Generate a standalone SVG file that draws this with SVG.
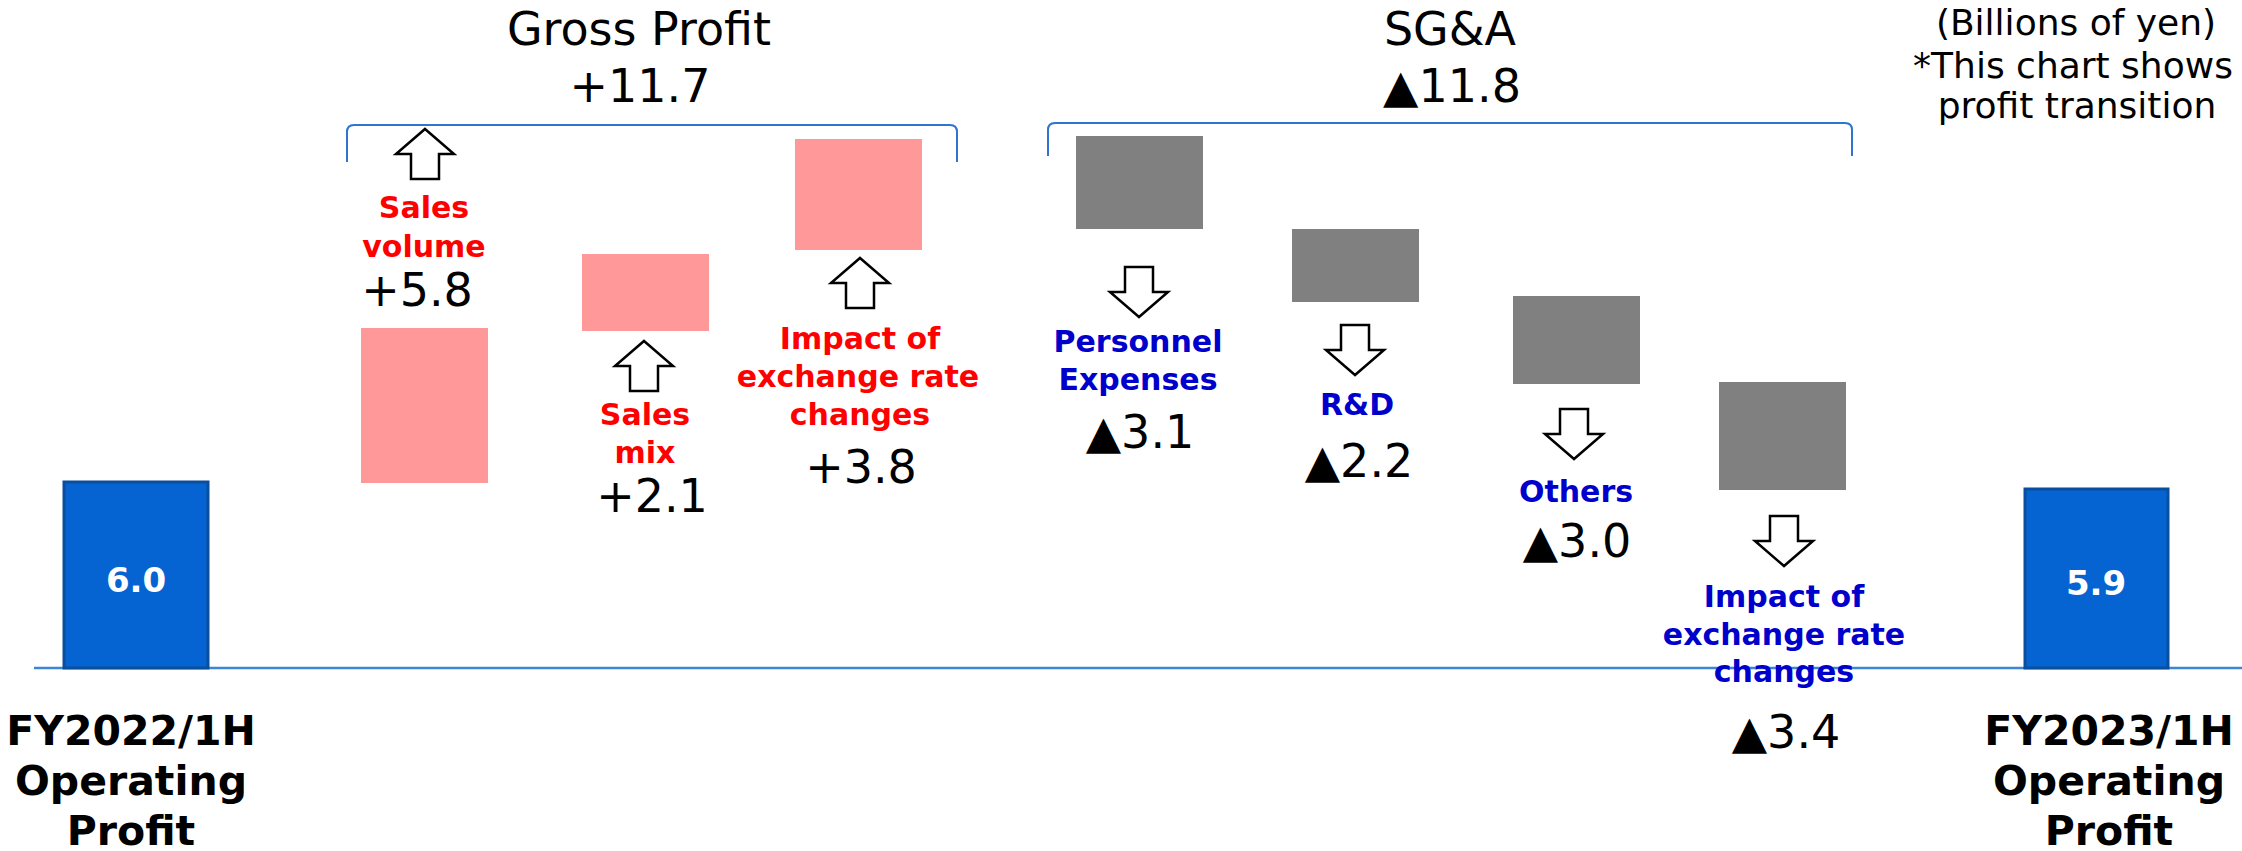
<svg xmlns="http://www.w3.org/2000/svg" width="2242" height="851" viewBox="0 0 2242 851">
<style>
.t{font-family:"DejaVu Sans","Liberation Sans",sans-serif;text-anchor:middle}
.num{font-size:46px;fill:#000}
.hdr{font-size:46px;fill:#000}
.note{font-size:36px;fill:#000}
.red{font-size:30px;font-weight:bold;fill:#ff0000}
.blu{font-size:30px;font-weight:bold;fill:#0000cc}
.cap{font-size:41px;font-weight:bold;fill:#000}
.val{font-size:34px;font-weight:bold;fill:#fff}
.pink{fill:#ff9999}
.gray{fill:#808080}
.bar{fill:#0564d1;stroke:#0a4f9e;stroke-width:3}
.arr{fill:#fff;stroke:#000;stroke-width:2.5;stroke-linejoin:miter}
.brk{fill:none;stroke:#2f74d0;stroke-width:2}
</style>
<defs>
<path id="up" d="M0,0 L29,25 L14,25 L14,50 L-14,50 L-14,25 L-29,25 Z"/>
<path id="dn" d="M0,0 L-29,-25 L-14,-25 L-14,-50 L14,-50 L14,-25 L29,-25 Z"/>
</defs>

<g id="axis">
<line x1="34" y1="668" x2="2242" y2="668" stroke="#3d85d6" stroke-width="2.5"/>
</g>

<g id="header-gross-profit">
<text class="t hdr" x="639" y="45">Gross Profit</text>
<text class="t hdr" x="640" y="102">+11.7</text>
<path class="brk" d="M347,162 L347,132 Q347,125 354,125 L950,125 Q957,125 957,132 L957,162"/>
</g>

<g id="header-sga">
<text class="t hdr" x="1450" y="45">SG&amp;A</text>
<text class="t hdr" x="1452" y="102">▲11.8</text>
<path class="brk" d="M1048,156 L1048,130 Q1048,123 1055,123 L1845,123 Q1852,123 1852,130 L1852,156"/>
</g>

<g id="units-note">
<text class="t note" x="2076" y="35">(Billions of yen)</text>
<text class="t note" x="2073" y="78">*This chart shows</text>
<text class="t note" x="2077" y="118">profit transition</text>
</g>

<g id="start-bar">
<rect class="bar" x="64" y="482" width="144" height="186"/>
<text class="t val" x="136" y="592">6.0</text>
<text class="t cap" x="131" y="745">FY2022/1H</text>
<text class="t cap" x="131" y="795">Operating</text>
<text class="t cap" x="131" y="845">Profit</text>
</g>

<g id="sales-volume">
<rect class="pink" x="361" y="328" width="127" height="155"/>
<use href="#up" class="arr" x="425" y="129"/>
<text class="t red" x="424" y="218">Sales</text>
<text class="t red" x="424" y="257">volume</text>
<text class="t num" x="417" y="306">+5.8</text>
</g>

<g id="sales-mix">
<rect class="pink" x="582" y="254" width="127" height="77"/>
<use href="#up" class="arr" x="644" y="341"/>
<text class="t red" x="645" y="425">Sales</text>
<text class="t red" x="645" y="463">mix</text>
<text class="t num" x="652" y="512">+2.1</text>
</g>

<g id="fx-gross">
<rect class="pink" x="795" y="139" width="127" height="111"/>
<use href="#up" class="arr" x="860" y="258"/>
<text class="t red" x="860" y="349">Impact of</text>
<text class="t red" x="858" y="387">exchange rate</text>
<text class="t red" x="860" y="425">changes</text>
<text class="t num" x="861" y="483">+3.8</text>
</g>

<g id="personnel">
<rect class="gray" x="1076" y="136" width="127" height="93"/>
<use href="#dn" class="arr" x="1139" y="317"/>
<text class="t blu" x="1138" y="352">Personnel</text>
<text class="t blu" x="1138" y="390">Expenses</text>
<text class="t num" x="1140" y="448">▲3.1</text>
</g>

<g id="rnd">
<rect class="gray" x="1292" y="229" width="127" height="73"/>
<use href="#dn" class="arr" x="1355" y="375"/>
<text class="t blu" x="1357" y="415">R&amp;D</text>
<text class="t num" x="1359" y="477">▲2.2</text>
</g>

<g id="others">
<rect class="gray" x="1513" y="296" width="127" height="88"/>
<use href="#dn" class="arr" x="1574" y="459"/>
<text class="t blu" x="1576" y="502">Others</text>
<text class="t num" x="1577" y="557">▲3.0</text>
</g>

<g id="fx-sga">
<rect class="gray" x="1719" y="382" width="127" height="108"/>
<use href="#dn" class="arr" x="1784" y="566"/>
<text class="t blu" x="1784" y="607">Impact of</text>
<text class="t blu" x="1784" y="645">exchange rate</text>
<text class="t blu" x="1784" y="682">changes</text>
<text class="t num" x="1786" y="748">▲3.4</text>
</g>

<g id="end-bar">
<rect class="bar" x="2025" y="489" width="143" height="179"/>
<text class="t val" x="2096" y="595">5.9</text>
<text class="t cap" x="2109" y="745">FY2023/1H</text>
<text class="t cap" x="2109" y="795">Operating</text>
<text class="t cap" x="2109" y="845">Profit</text>
</g>
</svg>
